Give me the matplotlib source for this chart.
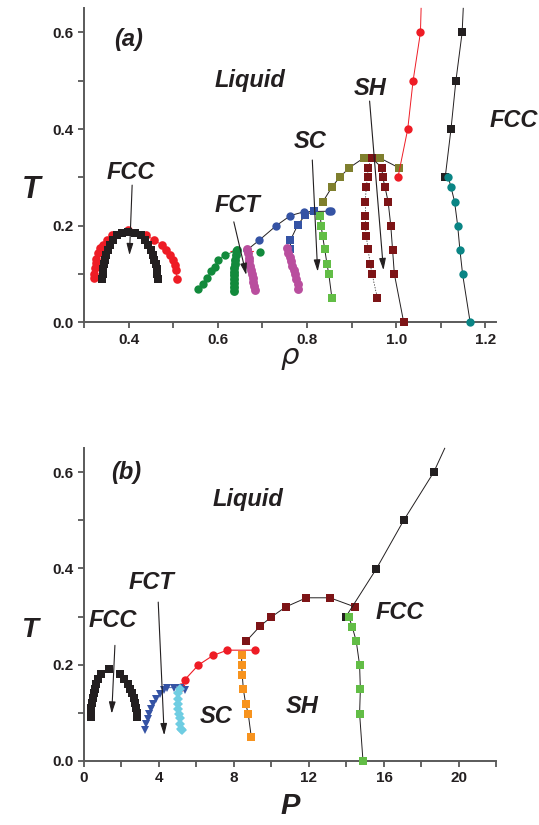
import matplotlib.pyplot as plt
from matplotlib.ticker import MultipleLocator, FormatStrFormatter

plt.rcParams['font.family'] = ['Liberation Sans', 'DejaVu Sans']

INK = '#231f20'
RED = '#ee1c25'
BLACK = '#231f20'
OLIVE = '#7f7f2e'
MAROON = '#7d1416'
LGREEN = '#62bd46'
BLUE = '#3553a4'
DGREEN = '#128a3c'
MAGENTA = '#b94e9e'
TEAL = '#0a8585'
ORANGE = '#f7931e'
CYAN = '#6fcde2'

# ---------------- panel (a): T vs density ----------------
fcc_red_rho = [0.322, 0.322, 0.324, 0.326, 0.328, 0.332, 0.337, 0.343, 0.352, 0.363,
               0.399, 0.440, 0.458, 0.475, 0.485, 0.493, 0.499, 0.503, 0.506, 0.509]
fcc_red_T = [0.091, 0.101, 0.112, 0.122, 0.132, 0.143, 0.153, 0.161, 0.170, 0.180,
             0.191, 0.180, 0.170, 0.160, 0.150, 0.139, 0.129, 0.119, 0.108, 0.090]

fcc_blk_rho = [0.341, 0.342, 0.3435, 0.345, 0.347, 0.350, 0.354, 0.358, 0.365, 0.375,
               0.385, 0.398, 0.415,
               0.428, 0.437, 0.444, 0.450, 0.454, 0.458, 0.461, 0.463, 0.4645, 0.465]
fcc_blk_T = [0.09, 0.10, 0.11, 0.12, 0.13, 0.14, 0.15, 0.16, 0.17, 0.18,
             0.185, 0.188, 0.185,
             0.18, 0.17, 0.16, 0.15, 0.14, 0.13, 0.12, 0.11, 0.10, 0.09]

grn_rho = [0.555, 0.567, 0.576, 0.585, 0.593, 0.600, 0.616, 0.640]
grn_T = [0.070, 0.079, 0.092, 0.107, 0.115, 0.130, 0.139, 0.148]
grn_right_rho = [0.6955]
grn_right_T = [0.146]

grn_band_rho = [0.636, 0.636, 0.636, 0.6365, 0.637, 0.637, 0.6375, 0.638, 0.639, 0.641, 0.643]
grn_band_T = [0.065, 0.073, 0.081, 0.089, 0.097, 0.105, 0.113, 0.121, 0.130, 0.140, 0.150]

mag1_rho = [0.666, 0.667, 0.669, 0.670, 0.672, 0.674, 0.676, 0.678, 0.680, 0.682, 0.684]
mag1_T = [0.151, 0.143, 0.134, 0.126, 0.117, 0.109, 0.100, 0.092, 0.084, 0.075, 0.067]
mag2_rho = [0.755, 0.758, 0.761, 0.764, 0.767, 0.770, 0.773, 0.776, 0.779, 0.781]
mag2_T = [0.153, 0.144, 0.135, 0.126, 0.117, 0.109, 0.100, 0.090, 0.080, 0.070]

blue_c_rho = [0.666, 0.693, 0.731, 0.763, 0.794, 0.8485, 0.854]
blue_c_T = [0.150, 0.170, 0.200, 0.221, 0.229, 0.230, 0.230]
blue_s_rho = [0.763, 0.763, 0.779, 0.796, 0.815]
blue_s_T = [0.152, 0.170, 0.201, 0.222, 0.230]

sc_rho = [0.830, 0.832, 0.835, 0.840, 0.845, 0.849, 0.856]
sc_T = [0.220, 0.199, 0.179, 0.151, 0.120, 0.100, 0.050]

olive_rho = [0.836, 0.856, 0.873, 0.895, 0.927, 0.964, 1.006]
olive_T = [0.250, 0.280, 0.300, 0.320, 0.340, 0.340, 0.320]

sh_left_rho = [0.9455, 0.937, 0.936, 0.933, 0.931, 0.931, 0.931, 0.933, 0.937, 0.942, 0.946, 0.958]
sh_left_T = [0.340, 0.320, 0.300, 0.280, 0.250, 0.220, 0.200, 0.179, 0.151, 0.120, 0.100, 0.050]
sh_right_rho = [0.9455, 0.968, 0.970, 0.975, 0.982, 0.988, 0.992, 0.996, 1.017]
sh_right_T = [0.340, 0.320, 0.300, 0.280, 0.250, 0.200, 0.150, 0.100, 0.000]

liq_red_rho = [1.004, 1.026, 1.038, 1.0545, 1.056]
liq_red_T = [0.30, 0.40, 0.50, 0.60, 0.65]
liq_blk_rho = [1.110, 1.123, 1.134, 1.148, 1.1505]
liq_blk_T = [0.30, 0.40, 0.50, 0.60, 0.65]

teal_rho = [1.117, 1.123, 1.131, 1.138, 1.143, 1.149, 1.166]
teal_T = [0.30, 0.28, 0.25, 0.20, 0.15, 0.10, 0.00]

# ---------------- panel (b): T vs pressure ----------------
fccP_P = [0.36, 0.38, 0.40, 0.43, 0.47, 0.52, 0.58, 0.66, 0.76, 0.90,
          1.33,
          1.90, 2.15, 2.35, 2.48, 2.58, 2.66, 2.72, 2.77, 2.81, 2.84]
fccP_T = [0.09, 0.10, 0.11, 0.12, 0.13, 0.14, 0.15, 0.16, 0.17, 0.18,
          0.19,
          0.18, 0.17, 0.16, 0.15, 0.14, 0.13, 0.12, 0.11, 0.10, 0.09]

tri_P = [3.25, 3.32, 3.40, 3.47, 3.57, 3.70, 3.86, 4.04, 4.25, 4.45, 4.80, 5.10, 5.39]
tri_T = [0.064, 0.076, 0.086, 0.097, 0.107, 0.118, 0.128, 0.138, 0.147, 0.152, 0.152, 0.152, 0.147]

dia_P = [5.10, 5.03, 5.00, 5.01, 5.03, 5.07, 5.10, 5.14, 5.19, 5.21]
dia_T = [0.150, 0.140, 0.129, 0.119, 0.108, 0.098, 0.088, 0.077, 0.067, 0.064]

redP_P = [5.20, 5.39, 6.10, 6.88, 7.64, 9.10]
redP_T = [0.153, 0.169, 0.199, 0.219, 0.230, 0.230]

orange_P = [8.41, 8.41, 8.44, 8.50, 8.62, 8.76, 8.92]
orange_T = [0.219, 0.199, 0.179, 0.149, 0.119, 0.098, 0.050]

maroonP_P = [8.66, 9.39, 9.99, 10.76, 11.86, 13.12, 14.45]
maroonP_T = [0.249, 0.280, 0.299, 0.320, 0.339, 0.339, 0.320]

blkP_P = [13.96, 15.59, 17.05, 18.65, 19.24]
blkP_T = [0.299, 0.399, 0.500, 0.600, 0.65]

lgreenP_P = [14.13, 14.31, 14.52, 14.70, 14.74, 14.70, 14.88]
lgreenP_T = [0.299, 0.278, 0.249, 0.199, 0.149, 0.098, 0.000]


def style_axes(ax, xlim, xmajor, xminor, xfmt):
    ax.set_xlim(*xlim)
    ax.set_ylim(0, 0.65)
    for side in ('top', 'right'):
        ax.spines[side].set_visible(False)
    for side in ('left', 'bottom'):
        ax.spines[side].set_color('#5a5a5a')
        ax.spines[side].set_linewidth(1.4)
    ax.xaxis.set_major_locator(MultipleLocator(xmajor))
    ax.xaxis.set_minor_locator(MultipleLocator(xminor))
    ax.xaxis.set_major_formatter(FormatStrFormatter(xfmt))
    ax.yaxis.set_major_locator(MultipleLocator(0.2))
    ax.yaxis.set_minor_locator(MultipleLocator(0.1))
    ax.yaxis.set_major_formatter(FormatStrFormatter('%.1f'))
    ax.tick_params(which='both', direction='out', length=4, width=1.1,
                   color='#3a3a3a', labelsize=11, labelcolor=INK)
    for lab in ax.get_xticklabels() + ax.get_yticklabels():
        lab.set_fontweight('bold')


def curve(ax, x, y, color, marker='s', ms=5.0, lw=0.7, lc=INK, ls='-', markevery=None):
    ax.plot(x, y, ls=ls, lw=lw, color=lc, marker=marker, ms=ms, mfc=color,
            mec=color, mew=0, markevery=markevery, clip_on=False, zorder=3)


def dots(ax, x, y, color, marker='s', ms=5.0):
    ax.plot(x, y, ls='none', marker=marker, ms=ms, mfc=color, mec=color,
            mew=0, clip_on=False, zorder=3)


def arrow(ax, start, end):
    ax.annotate('', xy=end, xytext=start,
                arrowprops=dict(arrowstyle='-|>,head_length=0.7,head_width=0.2',
                                lw=0.8, color=INK, shrinkA=0, shrinkB=0),
                zorder=5)


def label(ax, x, y, s, size=17):
    ax.text(x, y, s, fontsize=size, fontweight='bold', fontstyle='italic',
            color=INK, ha='center', va='center', zorder=6)


fig = plt.figure(figsize=(5.39, 8.25), dpi=100)
ax1 = fig.add_axes([0.1558, 0.6093, 0.7653, 0.3806])
ax2 = fig.add_axes([0.1558, 0.0779, 0.7653, 0.3787])

# panel (a)
style_axes(ax1, (0.3, 1.225), 0.2, 0.1, '%.1f')
curve(ax1, fcc_red_rho, fcc_red_T, RED, 'o', 6.2, lw=0.6, lc=RED)
dots(ax1, fcc_blk_rho, fcc_blk_T, BLACK, 's', 5.6)
curve(ax1, grn_rho, grn_T, DGREEN, 'o', 6.0, lw=0.6, lc=DGREEN)
dots(ax1, grn_right_rho, grn_right_T, DGREEN, 'o', 6.0)
ax1.plot([0.628, 0.688], [0.148, 0.148], ls=(0, (3, 3)), lw=0.8, color=RED, zorder=2)
dots(ax1, grn_band_rho, grn_band_T, DGREEN, 'o', 6.4)
curve(ax1, blue_c_rho, blue_c_T, BLUE, 'o', 6.0)
curve(ax1, blue_s_rho, blue_s_T, BLUE, 's', 5.2)
dots(ax1, mag1_rho, mag1_T, MAGENTA, 'o', 6.4)
dots(ax1, mag2_rho, mag2_T, MAGENTA, 'o', 6.4)
curve(ax1, sc_rho, sc_T, LGREEN, 's', 5.2)
curve(ax1, olive_rho, olive_T, OLIVE, 's', 5.4)
curve(ax1, sh_left_rho, sh_left_T, MAROON, 's', 5.4, lw=0.5, ls=(0, (2, 2)))
curve(ax1, sh_right_rho, sh_right_T, MAROON, 's', 5.4)
curve(ax1, liq_red_rho, liq_red_T, RED, 'o', 6.0, lc=RED, markevery=slice(0, -1))
curve(ax1, liq_blk_rho, liq_blk_T, BLACK, 's', 5.2, markevery=slice(0, -1))
curve(ax1, teal_rho, teal_T, TEAL, 'o', 6.0)

arrow(ax1, (0.408, 0.284), (0.402, 0.139))
arrow(ax1, (0.636, 0.208), (0.664, 0.098))
arrow(ax1, (0.812, 0.336), (0.824, 0.105))
arrow(ax1, (0.9405, 0.458), (0.9716, 0.108))

label(ax1, 0.401, 0.586, '(a)')
label(ax1, 0.672, 0.501, 'Liquid')
label(ax1, 0.4045, 0.310, 'FCC')
label(ax1, 0.645, 0.241, 'FCT')
label(ax1, 0.8075, 0.374, 'SC')
label(ax1, 0.9425, 0.485, 'SH')
label(ax1, 1.263, 0.417, 'FCC')

ax1.set_xlabel(r'$\rho$', fontsize=21, color=INK, labelpad=-2)
ax1.set_ylabel('T', fontsize=22, fontweight='bold', fontstyle='italic',
               color=INK, rotation=0, va='center', ha='center')
ax1.yaxis.set_label_coords(-0.128, 0.42)

# panel (b)
style_axes(ax2, (0, 22), 4, 2, '%d')
dots(ax2, fccP_P, fccP_T, BLACK, 's', 5.6)
curve(ax2, redP_P, redP_T, RED, 'o', 6.0, lc=RED, lw=0.8)
curve(ax2, tri_P, tri_T, BLUE, 'v', 6.4, lc=BLUE, lw=0.6)
dots(ax2, dia_P, dia_T, CYAN, 'D', 5.4)
curve(ax2, orange_P, orange_T, ORANGE, 's', 5.2)
curve(ax2, maroonP_P, maroonP_T, MAROON, 's', 5.2)
curve(ax2, blkP_P, blkP_T, BLACK, 's', 5.2, markevery=slice(0, -1))
curve(ax2, lgreenP_P, lgreenP_T, LGREEN, 's', 5.2)

arrow(ax2, (1.65, 0.240), (1.48, 0.098))
arrow(ax2, (3.96, 0.330), (4.28, 0.053))

label(ax2, 2.27, 0.600, '(b)')
label(ax2, 8.75, 0.543, 'Liquid')
label(ax2, 1.51, 0.291, 'FCC')
label(ax2, 3.59, 0.370, 'FCT')
label(ax2, 7.02, 0.093, 'SC')
label(ax2, 11.64, 0.112, 'SH')
label(ax2, 16.84, 0.309, 'FCC')

ax2.set_xlabel('P', fontsize=21, fontweight='bold', fontstyle='italic',
               color=INK, labelpad=5)
ax2.set_ylabel('T', fontsize=20, fontweight='bold', fontstyle='italic',
               color=INK, rotation=0, va='center', ha='center')
ax2.yaxis.set_label_coords(-0.131, 0.42)

fig.savefig('out.png', dpi=100)
